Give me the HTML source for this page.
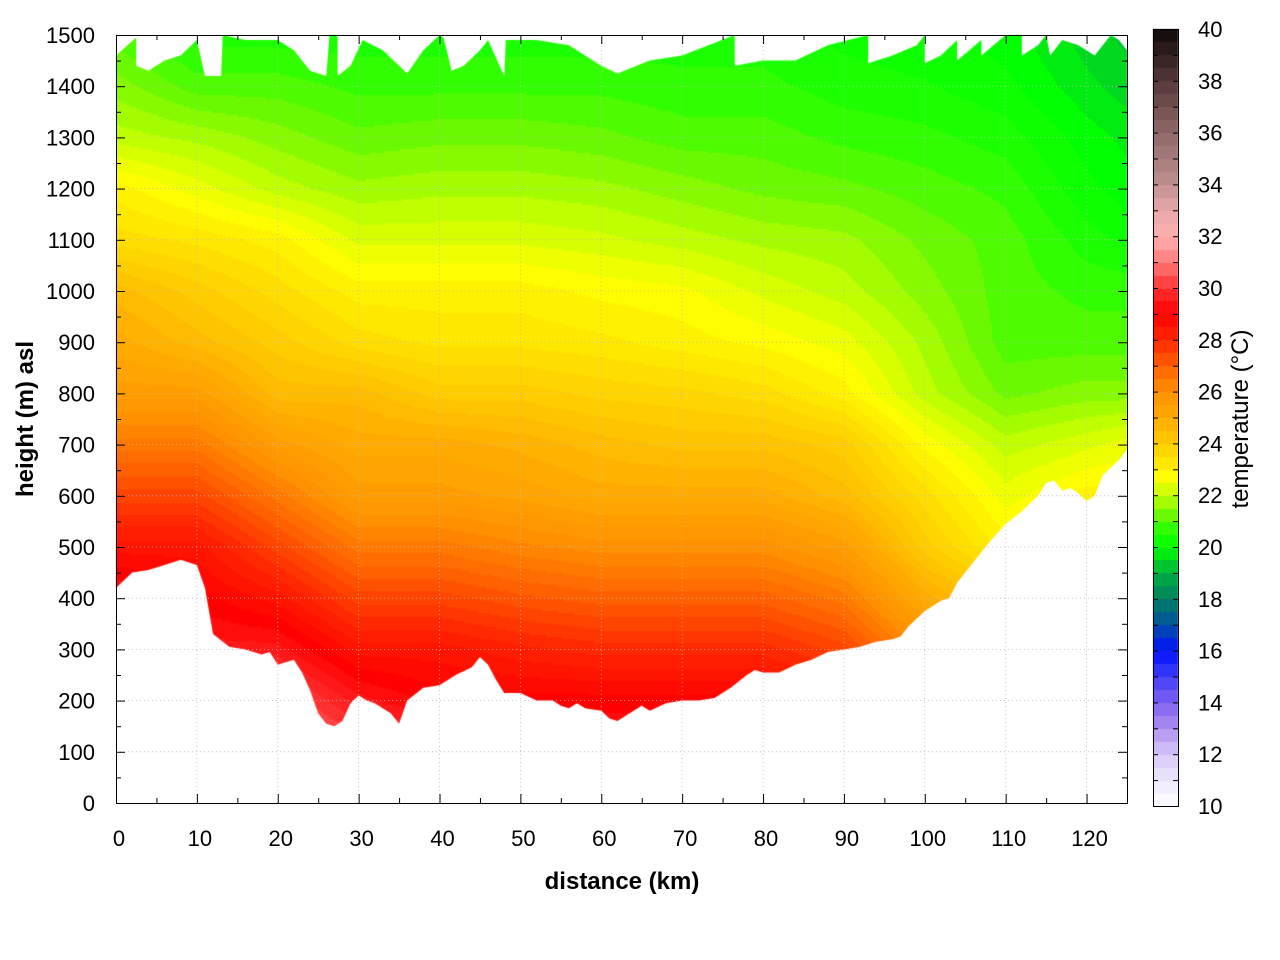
<!DOCTYPE html>
<html><head><meta charset="utf-8"><style>
body{margin:0;background:#fff;width:1280px;height:960px;overflow:hidden;font-family:"Liberation Sans",sans-serif}
#wrap{position:relative;width:1280px;height:960px}
canvas,svg{position:absolute;left:0;top:0}
</style></head><body><div id="wrap">
<canvas id="cv" width="1280" height="960"></canvas>
<svg id="sv" width="1280" height="960"></svg>
</div>
<script>
const distances=[0,10,20,30,40,50,60,70,80,90,100,110,120,125];
const heights=[0,100,200,300,400,500,600,700,800,900,1000,1100,1200,1300,1400,1500];
const t0=[31.5,31,31.5,31,30.5,30.5,30,30,30,29.5,28.5,27.5,27.5,27.5];
const t100=[31,30.5,31,30.5,30,30,29.5,29.5,29.5,29,28,27,27,27];
const t200=[30.5,30,30.5,29.5,29,29,29,29,29,28.5,27,26,26,26];
const t300=[30,29.5,29.5,28.5,28.5,28.2,28,28,28,27.5,26,25,25,25];
const t400=[29.5,29,28.5,27.5,27.5,27.2,27,27,27,26.5,25,24,24,24];
const t500=[28.5,28.5,27.5,26.5,26.5,26.2,26,26,26,25.5,24,23,23.5,23.5];
const t600=[27.5,27.5,26.5,25.5,25.5,25.3,25,25,25,24.5,23.5,22.5,23,23];
const t700=[26.5,26.5,25.5,25,25,24.8,24.5,24.3,24.3,24,22.8,22,22.3,22.5];
const t800=[25.5,25.5,24.5,24.5,24,24,23.8,23.7,23.5,23,22,21.3,21.5,21.5];
const t900=[25,24.5,24,23.5,23.3,23.3,23.2,23,22.8,22.5,21.8,21,21,21];
const t1000=[24.5,24,23.5,23,23,23,22.8,22.7,22.3,22,21.5,21,20.8,20.8];
const t1100=[23.5,23.3,23,22.3,22.3,22.3,22.2,22,21.8,21.7,21.3,21,20.5,20.3];
const t1200=[23,22.5,22,21.7,21.8,21.8,21.7,21.5,21.3,21.2,21,20.8,20.2,20];
const t1300=[22,21.8,21.5,21.2,21.3,21.3,21.2,21,21,20.8,20.7,20.5,20,19.8];
const t1400=[21.5,21,21,20.8,20.8,20.8,20.8,20.7,20.7,20.5,20.4,20.2,19.7,19.5];
const t1500=[21,20.5,20.5,20.5,20.5,20.5,20.5,20.5,20.5,20.3,20.2,20,19.5,19.3];
const grid=[t0,t100,t200,t300,t400,t500,t600,t700,t800,t900,t1000,t1100,t1200,t1300,t1400,t1500];
const groundKm=[0,2,4,6,8,10,11,12,14,16,18,19,20,22,23,24,25,26,27,28,29,30,31,32,34,35,36,38,40,42,44,45,46,47,48,50,52,54,55,56,57,58,60,61,62,64,65,66,68,70,72,74,76,78,79,80,82,84,86,88,90,92,94,96,97,98,100,102,103,104,106,108,110,112,114,115,116,117,118,119,120,121,122,124,125];
const groundM=[420,450,455,465,475,465,420,330,305,300,290,295,270,280,255,220,175,155,150,160,195,210,200,195,175,155,200,225,230,250,265,285,270,240,215,215,200,200,190,185,195,185,180,165,160,180,190,180,195,200,200,205,225,250,260,255,255,270,280,295,300,305,315,320,325,345,375,395,400,430,470,510,545,570,600,625,630,610,615,605,590,600,640,670,690];
const topKm=[0,2.5,2.5,4,6,8,10,11,13,13.2,16,20,22,24,26,26.4,27.4,27.4,29,30.5,33,35,36,38,40,40.5,41.5,43,45,46,48,48.2,52,56,60,62,66,68,70,76.5,76.5,80,84,88,93,93,96,99,100,100,102,104,104,107,107,110,112,112,114,115,115.5,117,119,121,123,124,125];
const topM=[1460,1495,1440,1430,1450,1460,1490,1420,1420,1500,1490,1490,1470,1430,1420,1500,1500,1420,1440,1490,1470,1440,1425,1470,1500,1495,1430,1440,1470,1490,1420,1490,1490,1480,1440,1425,1450,1455,1460,1500,1440,1450,1450,1480,1500,1445,1460,1480,1500,1445,1460,1490,1450,1490,1460,1500,1500,1460,1480,1500,1460,1490,1480,1460,1500,1490,1470];
const xTicks=[0,10,20,30,40,50,60,70,80,90,100,110,120];
const yTicks=[0,100,200,300,400,500,600,700,800,900,1000,1100,1200,1300,1400,1500];
const cbTicks=[10,12,14,16,18,20,22,24,26,28,30,32,34,36,38,40];
const cmapT=[10,11,12,13,14,15,16,17,18,19,20,20.6,21.3,22,22.7,23.5,25,26,27,28,29,30,31,32,33,34,36,38,40];
const cmapC=['#ffffff','#eee8ff','#d8c8f8','#b090f0','#8060f0','#4040f8','#0010ff','#0050a0','#008060','#00b040','#00ff00','#20ff00','#70f800','#c0ff00','#ffff00','#ffdd00','#ffaa00','#ff9000','#ff6000','#ff2800','#ff0000','#ff3030','#ff7878','#ffb0b0','#e8a8a8','#c09090','#906868','#553838','#100808'];

const X0=116,X1=1127,Y0=803,Y1=35;
const X=k=>X0+k*(X1-X0)/125, Y=m=>Y0-m*(Y0-Y1)/1500;
const hex=h=>[1,3,5].map(i=>parseInt(h.substr(i,2),16));
function col(t){
  if(t<=cmapT[0])return hex(cmapC[0]);
  for(let i=1;i<cmapT.length;i++)if(t<=cmapT[i]){const f=(t-cmapT[i-1])/(cmapT[i]-cmapT[i-1]);const a=hex(cmapC[i-1]),b=hex(cmapC[i]);return a.map((v,j)=>Math.round(v+(b[j]-v)*f));}
  return hex(cmapC[cmapC.length-1]);
}
function interp(k,m){
  let c=0;while(c<distances.length-2&&k>distances[c+1])c++;
  let r=0;while(r<heights.length-2&&m>heights[r+1])r++;
  const fx=Math.max(0,Math.min(1,(k-distances[c])/(distances[c+1]-distances[c])));
  const fy=Math.max(0,Math.min(1,(m-heights[r])/(heights[r+1]-heights[r])));
  const a=grid[r][c],b=grid[r][c+1],cc=grid[r+1][c],d=grid[r+1][c+1];
  return a*(1-fx)*(1-fy)+b*fx*(1-fy)+cc*(1-fx)*fy+d*fx*fy;
}
const cv=document.getElementById('cv'),ctx=cv.getContext('2d');
ctx.fillStyle='#fff';ctx.fillRect(0,0,1280,960);
ctx.save();
ctx.beginPath();
ctx.moveTo(X(groundKm[0]),Y(groundM[0]));
for(let i=1;i<groundKm.length;i++)ctx.lineTo(X(groundKm[i]),Y(groundM[i]));
for(let i=topKm.length-1;i>=0;i--)ctx.lineTo(X(topKm[i]),Y(topM[i]));
ctx.closePath();ctx.clip();
for(let px=X0;px<X1;px+=2)for(let py=Y1;py<Y0;py+=2){
  const k=(px+1-X0)*125/(X1-X0),m=(Y0-py-1)*1500/(Y0-Y1);
  let t=interp(k,m);t=Math.round(t*4)/4;
  const c=col(t);ctx.fillStyle='rgb('+c+')';ctx.fillRect(px,py,2,2);
}
ctx.restore();
for(let py=29;py<806;py++){
  let t=10+(806-py)*30/777;t=Math.floor(t*2)/2+0.25;
  const c=col(t);ctx.fillStyle='rgb('+c+')';ctx.fillRect(1153,py,25,1);
}
const NS='http://www.w3.org/2000/svg',sv=document.getElementById('sv');
function el(tag,at,txt){const e=document.createElementNS(NS,tag);for(const k in at)e.setAttribute(k,at[k]);if(txt!==undefined)e.textContent=txt;sv.appendChild(e);return e;}
xTicks.forEach(v=>{if(v>0){const g=el('line',{x1:X(v),x2:X(v),y1:Y0,y2:Y1,stroke:'#bbb','stroke-width':0.8,'stroke-dasharray':'1,3'});

}});
yTicks.forEach(v=>{if(v>0&&v<1500){const g=el('line',{x1:X0,x2:X1,y1:Y(v),y2:Y(v),stroke:'#bbb','stroke-width':0.8,'stroke-dasharray':'1,3'});

}});
const fr=el('rect',{x:X0+0.5,y:Y1+0.5,width:X1-X0,height:Y0-Y1,fill:'none',stroke:'#000','stroke-width':1});


for(let v=0;v<=125;v+=5){const x=X(v)+0.5,L=v%10===0?9:5;
el('line',{x1:x,x2:x,y1:Y0,y2:Y0-L,stroke:'#000'});el('line',{x1:x,x2:x,y1:Y1,y2:Y1+L,stroke:'#000'});}
xTicks.forEach(v=>{const t=el('text',{x:X(v)+3,y:846,'text-anchor':'middle','font-size':22},v);

});
for(let v=0;v<=1500;v+=50){const y=Y(v)+0.5,L=v%100===0?9:5;
el('line',{x1:X0,x2:X0+L,y1:y,y2:y,stroke:'#000'});el('line',{x1:X1,x2:X1-L,y1:y,y2:y,stroke:'#000'});}
yTicks.forEach(v=>{const t=el('text',{x:95,y:Y(v)+8,'text-anchor':'end','font-size':22},v);

});
const cb=el('rect',{x:1153.5,y:29.5,width:25,height:777,fill:'none',stroke:'#000'});


for(let v=10;v<=40;v+=1){const y=806-(v-10)*777/30+0.5;el('line',{x1:1153,x2:1158,y1:y,y2:y,stroke:'#000'});el('line',{x1:1178,x2:1173,y1:y,y2:y,stroke:'#000'});}
cbTicks.forEach(v=>{const t=el('text',{x:1198,y:806-(v-10)*777/30+8,'font-size':22},v);

});
const xt=el('text',{x:622,y:889,'text-anchor':'middle','font-size':24,'font-weight':'bold'},'distance (km)');


const yt=el('text',{x:0,y:0,'text-anchor':'middle','font-size':24,'font-weight':'bold',transform:'translate(33,419) rotate(-90)'},'height (m) asl');


const ct=el('text',{x:0,y:0,'text-anchor':'middle','font-size':24,transform:'translate(1248,419) rotate(-90)'},'temperature (°C)');


</script></body></html>
